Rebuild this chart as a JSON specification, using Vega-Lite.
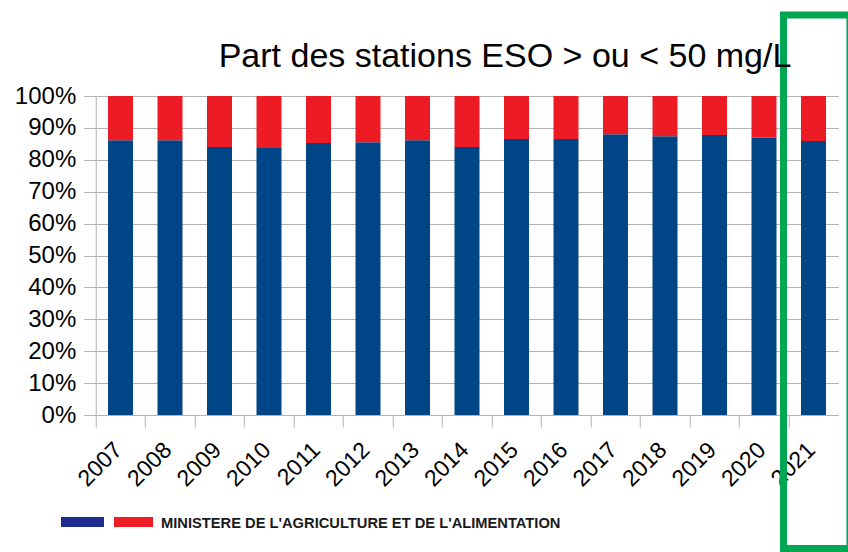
{
  "$schema": "https://vega.github.io/schema/vega-lite/v6.json",
  "width": 742.5,
  "height": 319,
  "autosize": "none",
  "padding": {"left": 95.75, "top": 96, "right": 9.75, "bottom": 137},
  "background": "white",
  "config": {
    "view": {"stroke": null},
    "font": "Liberation Sans",
    "axis": {"labelFont": "Liberation Sans", "labelColor": "#000000", "domainColor": "#b3b3b3", "tickColor": "#b3b3b3", "gridColor": "#b3b3b3", "labelFontSize": 24}
  },
  "title": {
    "text": "Part des stations ESO > ou < 50 mg/L",
    "font": "Liberation Sans",
    "fontSize": 34,
    "fontWeight": "normal",
    "color": "#000000",
    "anchor": "middle",
    "baseline": "top",
    "dx": 38,
    "offset": -62.6
  },
  "datasets": {
    "parts": [
      {"annee": "2007", "cls": "inf", "part": 0.861}, {"annee": "2007", "cls": "sup", "part": 0.139},
      {"annee": "2008", "cls": "inf", "part": 0.861}, {"annee": "2008", "cls": "sup", "part": 0.139},
      {"annee": "2009", "cls": "inf", "part": 0.840}, {"annee": "2009", "cls": "sup", "part": 0.160},
      {"annee": "2010", "cls": "inf", "part": 0.837}, {"annee": "2010", "cls": "sup", "part": 0.163},
      {"annee": "2011", "cls": "inf", "part": 0.853}, {"annee": "2011", "cls": "sup", "part": 0.147},
      {"annee": "2012", "cls": "inf", "part": 0.855}, {"annee": "2012", "cls": "sup", "part": 0.145},
      {"annee": "2013", "cls": "inf", "part": 0.861}, {"annee": "2013", "cls": "sup", "part": 0.139},
      {"annee": "2014", "cls": "inf", "part": 0.840}, {"annee": "2014", "cls": "sup", "part": 0.160},
      {"annee": "2015", "cls": "inf", "part": 0.865}, {"annee": "2015", "cls": "sup", "part": 0.135},
      {"annee": "2016", "cls": "inf", "part": 0.865}, {"annee": "2016", "cls": "sup", "part": 0.135},
      {"annee": "2017", "cls": "inf", "part": 0.880}, {"annee": "2017", "cls": "sup", "part": 0.120},
      {"annee": "2018", "cls": "inf", "part": 0.874}, {"annee": "2018", "cls": "sup", "part": 0.126},
      {"annee": "2019", "cls": "inf", "part": 0.878}, {"annee": "2019", "cls": "sup", "part": 0.122},
      {"annee": "2020", "cls": "inf", "part": 0.869}, {"annee": "2020", "cls": "sup", "part": 0.131},
      {"annee": "2021", "cls": "inf", "part": 0.859}, {"annee": "2021", "cls": "sup", "part": 0.141}
    ],
    "cadre": [{"annee": "2021", "part": -0.4185, "haut": 1.254}],
    "drapeau": [
      {"annee": "2007", "part": -0.351, "haut": -0.320, "p": "bleu"},
      {"annee": "2007", "part": -0.351, "haut": -0.320, "p": "rouge"}
    ],
    "pied": [{"annee": "2008", "part": -0.353, "t": "MINISTERE DE L'AGRICULTURE ET DE L'ALIMENTATION"}]
  },
  "layer": [
    {
      "data": {"name": "parts"},
      "mark": {"type": "bar", "width": {"band": 0.505}},
      "encoding": {
        "x": {
          "field": "annee", "type": "nominal",
          "scale": {"paddingInner": 0, "paddingOuter": 0},
          "axis": {"title": null, "bandPosition": 0, "labelAngle": -45, "labelAlign": "right", "labelBaseline": "middle", "labelPadding": 19, "labelOffset": -2, "tickSize": 12, "labelFontSize": 23, "labelOverlap": false}
        },
        "y": {
          "field": "part", "type": "quantitative", "stack": "zero",
          "scale": {"domain": [0, 1], "nice": false},
          "axis": {"title": null, "values": [0, 0.1, 0.2, 0.3, 0.4, 0.5, 0.6, 0.7, 0.8, 0.9, 1], "tickCount": 11, "format": ".0%", "grid": true, "tickSize": 12, "labelPadding": 8, "labelFontSize": 24, "labelOverlap": false}
        },
        "color": {"field": "cls", "type": "nominal", "scale": {"domain": ["inf", "sup"], "range": ["#004586", "#ed1c24"]}, "legend": null},
        "order": {"field": "cls", "sort": "ascending"}
      }
    },
    {
      "data": {"name": "drapeau"},
      "transform": [{"filter": "datum.p === 'bleu'"}],
      "mark": {"type": "rect", "color": "#1e2b8f"},
      "encoding": {
        "x": {"field": "annee", "type": "nominal", "bandPosition": -0.702},
        "x2": {"field": "annee", "bandPosition": 0.167},
        "y": {"field": "part", "type": "quantitative", "axis": {"title": null, "values": [0, 0.1, 0.2, 0.3, 0.4, 0.5, 0.6, 0.7, 0.8, 0.9, 1], "tickCount": 11, "format": ".0%", "grid": true, "tickSize": 12, "labelPadding": 8, "labelFontSize": 24, "labelOverlap": false}},
        "y2": {"field": "haut"}
      }
    },
    {
      "data": {"name": "drapeau"},
      "transform": [{"filter": "datum.p === 'rouge'"}],
      "mark": {"type": "rect", "color": "#ee1c24"},
      "encoding": {
        "x": {"field": "annee", "type": "nominal", "bandPosition": 0.369},
        "x2": {"field": "annee", "bandPosition": 1.157},
        "y": {"field": "part", "type": "quantitative", "axis": {"title": null, "values": [0, 0.1, 0.2, 0.3, 0.4, 0.5, 0.6, 0.7, 0.8, 0.9, 1], "tickCount": 11, "format": ".0%", "grid": true, "tickSize": 12, "labelPadding": 8, "labelFontSize": 24, "labelOverlap": false}},
        "y2": {"field": "haut"}
      }
    },
    {
      "data": {"name": "pied"},
      "mark": {"type": "text", "align": "left", "baseline": "alphabetic", "font": "Liberation Sans", "fontWeight": "bold", "fontSize": 14.7, "color": "#1a1a1a"},
      "encoding": {
        "x": {"field": "annee", "type": "nominal", "bandPosition": 0.318},
        "y": {"field": "part", "type": "quantitative", "axis": {"title": null, "values": [0, 0.1, 0.2, 0.3, 0.4, 0.5, 0.6, 0.7, 0.8, 0.9, 1], "tickCount": 11, "format": ".0%", "grid": true, "tickSize": 12, "labelPadding": 8, "labelFontSize": 24, "labelOverlap": false}},
        "text": {"field": "t"}
      }
    },
    {
      "data": {"name": "cadre"},
      "mark": {"type": "rect", "filled": false, "stroke": "#00a651", "strokeWidth": 7},
      "encoding": {
        "x": {"field": "annee", "type": "nominal", "bandPosition": -0.106},
        "x2": {"field": "annee", "bandPosition": 1.237},
        "y": {"field": "part", "type": "quantitative", "axis": {"title": null, "values": [0, 0.1, 0.2, 0.3, 0.4, 0.5, 0.6, 0.7, 0.8, 0.9, 1], "tickCount": 11, "format": ".0%", "grid": true, "tickSize": 12, "labelPadding": 8, "labelFontSize": 24, "labelOverlap": false}},
        "y2": {"field": "haut"}
      }
    }
  ]
}
